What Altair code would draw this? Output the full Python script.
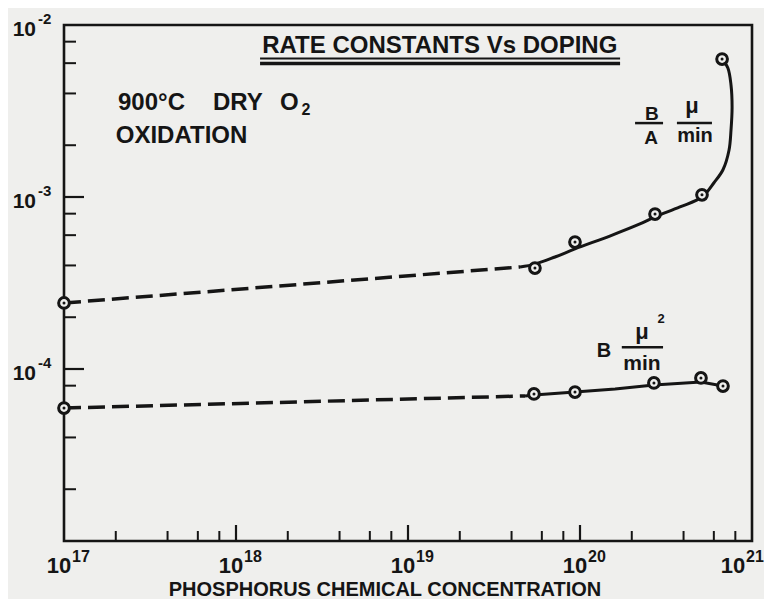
import altair as alt
import pandas as pd

# ---------------- data ----------------
# measured points, B/A (micron/min) and B (micron^2/min)
ba_conc = [1e17, 5.47e19, 9.35e19, 2.73e20, 5.12e20, 6.70e20]
ba_val = [2.42e-4, 3.86e-4, 5.47e-4, 7.96e-4, 1.03e-3, 6.34e-3]
b_conc = [1e17, 5.40e19, 9.35e19, 2.69e20, 5.05e20, 6.78e20]
b_val = [5.93e-5, 7.16e-5, 7.34e-5, 8.30e-5, 8.87e-5, 7.96e-5]

# hand-drawn guide curves (dashed extrapolation + solid fit)
ba_dash_conc = [1e17, 4.48e19]
ba_dash_val = [2.42e-4, 3.92e-4]
ba_fit_conc = [4.48e19, 5.47e19, 7.16e19, 9.35e19, 1.49e20, 2.23e20, 2.73e20, 3.81e20,
               5.12e20, 6.01e20, 6.78e20, 7.35e20, 7.55e20, 7.66e20, 7.55e20, 7.24e20, 6.70e20]
ba_fit_val = [3.92e-4, 4.07e-4, 4.48e-4, 4.99e-4, 5.93e-4, 6.97e-4, 7.66e-4, 8.75e-4,
              1.00e-3, 1.21e-3, 1.44e-3, 1.87e-3, 2.45e-3, 3.33e-3, 4.48e-3, 5.62e-3, 6.34e-3]
b_dash_conc = [1e17, 4.79e19]
b_dash_val = [5.93e-5, 6.97e-5]
b_fit_conc = [4.79e19, 5.40e19, 9.35e19, 1.60e20, 2.69e20, 5.05e20, 6.78e20]
b_fit_val = [6.97e-5, 7.06e-5, 7.34e-5, 7.65e-5, 8.07e-5, 8.39e-5, 7.96e-5]

# ticks and tick labels
x_minor = [m * 10.0 ** e for e in (17, 18, 19, 20) for m in (2, 4, 6, 8)]
x_major = [1e18, 1e19, 1e20]
y_minor = [m * 10.0 ** e for e in (-5, -4, -3) for m in (2, 4, 6, 8)]
y_major = [1e-4, 1e-3]
x_label_vals = [1e17, 1e18, 1e19, 1e20, 1e21]
x_label_exp = ["17", "18", "19", "20", "21"]
y_label_vals = [1e-2, 1e-3, 1e-4]
y_label_exp = ["-2", "-3", "-4"]

# ---------------- styling ----------------
FONT = "Liberation Sans"
INK = "#151515"
BG = "#efefed"
W, H = 688, 516

xs = alt.Scale(type="log", domain=[1e17, 1e21], nice=False)
ys = alt.Scale(type="log", domain=[1e-5, 1e-2], nice=False)


def X(f="x"):
    return alt.X(f"{f}:Q", scale=xs, axis=None)


def Y(f="y"):
    return alt.Y(f"{f}:Q", scale=ys, axis=None)


def frame(xv, yv):
    return pd.DataFrame({"x": xv, "y": yv, "i": list(range(len(xv)))})


layers = []

# ticks (drawn inward, as in the original)
layers.append(alt.Chart(pd.DataFrame({"x": x_minor})).mark_rule(color=INK, strokeWidth=2)
              .encode(x=X(), y=alt.value(H), y2=alt.value(H - 10)))
layers.append(alt.Chart(pd.DataFrame({"x": x_major})).mark_rule(color=INK, strokeWidth=2.2)
              .encode(x=X(), y=alt.value(H), y2=alt.value(H - 16)))
layers.append(alt.Chart(pd.DataFrame({"y": y_minor})).mark_rule(color=INK, strokeWidth=2)
              .encode(y=Y(), x=alt.value(0), x2=alt.value(12)))
layers.append(alt.Chart(pd.DataFrame({"y": y_major})).mark_rule(color=INK, strokeWidth=2.2)
              .encode(y=Y(), x=alt.value(0), x2=alt.value(20)))

# curves
dash = dict(strokeDash=[17, 7], strokeWidth=3.5, color=INK)
solid = dict(strokeWidth=3, color=INK)
layers.append(alt.Chart(frame(ba_dash_conc, ba_dash_val)).mark_line(**dash).encode(x=X(), y=Y()))
layers.append(alt.Chart(frame(b_dash_conc, b_dash_val)).mark_line(**dash).encode(x=X(), y=Y()))
layers.append(alt.Chart(frame(ba_fit_conc, ba_fit_val)).mark_line(interpolate="catmull-rom", **solid)
              .encode(x=X(), y=Y(), order="i:Q"))
layers.append(alt.Chart(frame(b_fit_conc, b_fit_val)).mark_line(**solid)
              .encode(x=X(), y=Y(), order="i:Q"))

# measured points: open circle with a centre dot
pts = pd.concat([frame(ba_conc, ba_val), frame(b_conc, b_val)], ignore_index=True)
layers.append(alt.Chart(pts).mark_point(shape="circle", filled=True, fill=BG, stroke=INK,
                                        strokeWidth=3, size=115, opacity=1)
              .encode(x=X(), y=Y()))
layers.append(alt.Chart(pts).mark_circle(size=9, color=INK, opacity=1).encode(x=X(), y=Y()))

# axis tick labels (10 with superscript exponent)
xl_main = pd.DataFrame({"x": x_label_vals[:-1], "t": ["10"] * 4, "e": x_label_exp[:-1]})
xl_last = pd.DataFrame({"x": x_label_vals[-1:], "t": ["10"], "e": x_label_exp[-1:]})
txt = dict(font=FONT, fontWeight="bold", color=INK, baseline="alphabetic")
layers.append(alt.Chart(xl_main).mark_text(fontSize=22, align="center", dx=-5, dy=32, **txt)
              .encode(x=X(), y=alt.value(H), text="t:N"))
layers.append(alt.Chart(xl_main).mark_text(fontSize=16, align="left", dx=8, dy=21, **txt)
              .encode(x=X(), y=alt.value(H), text="e:N"))
layers.append(alt.Chart(xl_last).mark_text(fontSize=22, align="center", dx=-19, dy=32, **txt)
              .encode(x=X(), y=alt.value(H), text="t:N"))
layers.append(alt.Chart(xl_last).mark_text(fontSize=16, align="left", dx=-6, dy=21, **txt)
              .encode(x=X(), y=alt.value(H), text="e:N"))

yl = pd.DataFrame({"y": y_label_vals, "t": ["10"] * 3, "e": y_label_exp})
layers.append(alt.Chart(yl).mark_text(fontSize=21, align="right", dy=11, **txt)
              .encode(y=Y(), x=alt.value(-28), text="t:N"))
layers.append(alt.Chart(yl).mark_text(fontSize=15, align="left", dy=-1, **txt)
              .encode(y=Y(), x=alt.value(-26), text="e:N"))

# annotations (anchored in data units)
notes_center = pd.DataFrame({
    "t": ["RATE CONSTANTS Vs DOPING", "B", "A", "\u03bc", "min", "B", "\u03bc", "2", "min"],
    "x": [1.53e19, 2.62e20, 2.59e20, 4.48e20, 4.66e20, 1.38e20, 2.29e20, 2.96e20, 2.29e20],
    "y": [6.87e-3, 2.80e-3, 2.03e-3, 3.08e-3, 2.09e-3, 1.17e-4, 1.49e-4, 1.85e-4, 9.86e-5],
    "s": [24, 19, 19, 22, 20, 20, 22, 13, 21],
})
notes_left = pd.DataFrame({
    "t": ["900\u00b0C", "DRY", "O", "2", "OXIDATION"],
    "x": [2.06e17, 7.35e17, 1.80e18, 2.40e18, 2.0e17],
    "y": [3.21e-3, 3.21e-3, 3.21e-3, 3.0e-3, 2.06e-3],
    "s": [24, 24, 24, 16, 24],
})
layers.append(alt.Chart(notes_center).mark_text(align="center", **txt)
              .encode(x=X(), y=Y(), text="t:N", size=alt.Size("s:Q", scale=None, legend=None)))
layers.append(alt.Chart(notes_left).mark_text(align="left", **txt)
              .encode(x=X(), y=Y(), text="t:N", size=alt.Size("s:Q", scale=None, legend=None)))

# title underline (double) and fraction bars
bars = pd.DataFrame({
    "x": [1.38e18, 1.38e18, 2.09e20, 3.66e20, 1.75e20],
    "x2": [1.71e20, 1.71e20, 3.04e20, 5.85e20, 3.04e20],
    "y": [6.38e-3, 5.97e-3, 2.69e-3, 2.69e-3, 1.34e-4],
    "w": [2.0, 3.5, 2.5, 2.5, 2.5],
})
layers.append(alt.Chart(bars).mark_rule(color=INK)
              .encode(x=X(), x2="x2:Q", y=Y(),
                      strokeWidth=alt.StrokeWidth("w:Q", scale=None, legend=None)))

# x axis title
layers.append(alt.Chart(pd.DataFrame({"x": [7.35e18], "t": ["PHOSPHORUS CHEMICAL CONCENTRATION"]}))
              .mark_text(fontSize=20, align="center", dy=55, **txt)
              .encode(x=X(), y=alt.value(H), text="t:N"))

chart = (
    alt.layer(*layers)
    .properties(width=W, height=H,
                padding={"left": 56, "top": 17, "right": 12, "bottom": 58},
                autosize=alt.AutoSizeParams(type="none"),
                background=BG)
    .configure_view(stroke=INK, strokeWidth=2.6)
)

chart.save("out.html", embed_options={"renderer": "svg", "actions": False})
